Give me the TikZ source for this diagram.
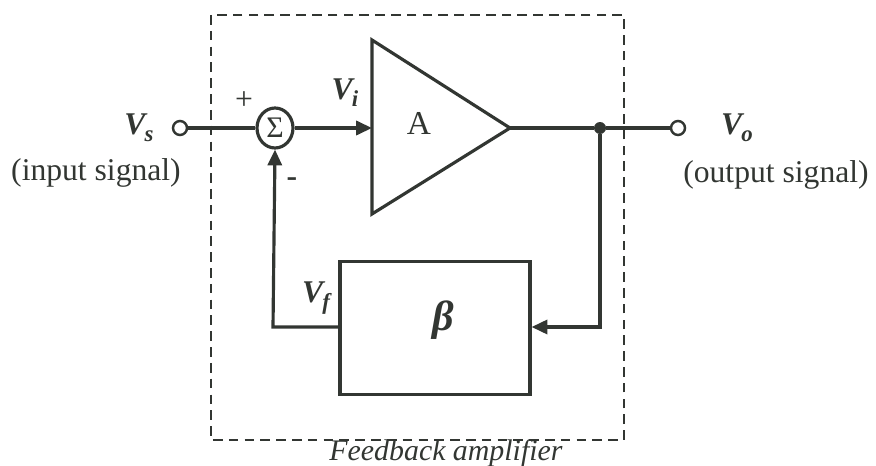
\documentclass[tikz,border=0pt]{standalone}
\usepackage{fontspec}
\setmainfont{Liberation Serif}
\usetikzlibrary{arrows.meta,shapes.geometric}
\definecolor{ink}{RGB}{50,54,50}
\begin{document}
\begin{tikzpicture}[x=0.02cm,y=-0.02cm,
  wire/.style={draw=ink,line width=1.8pt},
  arr/.style={wire,-{Triangle[length=9pt,width=8pt]}},
  term/.style={circle,draw=ink,line width=1.4pt,fill=white,minimum size=0.28cm,inner sep=0pt},
  lbl/.style={text=ink,font=\fontsize{18}{20}\selectfont,inner sep=0pt},
  sigbox/.style={ellipse,draw=ink,line width=1.8pt,minimum width=0.72cm,minimum height=0.8cm,inner sep=0pt},
  blk/.style={rectangle,draw=ink,line width=1.8pt,minimum width=3.8cm,minimum height=2.66cm,inner sep=0pt},
  frame/.style={draw=ink,line width=1.2pt,dash pattern=on 5.5pt off 3.5pt}]
\useasboundingbox (0,0) rectangle (876,466);
% dashed frame
\draw[frame] (211,15) rectangle (624,440);
% nodes
\node[term] (vs) at (180,128) {};
\node[sigbox] (sum) at (275,128) {\fontsize{17}{18}\selectfont\textcolor{ink}{Σ}};
\coordinate (ain) at (372,128);
\coordinate (aout) at (510,128);
\draw[wire,line join=miter] (372,40) -- (aout) -- (372,214) -- cycle;
\node[circle,fill=ink,minimum size=0.24cm,inner sep=0pt] (dot) at (600,128) {};
\node[term] (vo) at (678,128) {};
\node[blk] (beta) at (435,328) {};
\coordinate (fbr) at (600,327);
\coordinate (fbl) at (273,327);
% connectors
\draw[wire] (vs) -- (sum);
\draw[arr] (sum) -- (ain);
\draw[wire] (aout) -- (dot) -- (vo);
\draw[arr] (dot) -- (fbr) -- (beta.east |- fbr);
\draw[arr] (beta.west |- fbl) -- (fbl) -- (sum.south);
% labels
\node[lbl] (lvs) at (139,128) {\textbf{\textit{V\kern-0.5pt\raisebox{-4pt}{\fontsize{13}{14}\selectfont s}}}};
\node[lbl] (lin) at (96,173) {(input signal)};
\node[lbl] (lplus) at (244,101) {+};
\node[lbl] (lminus) at (292,182) {\textbf{-}};
\node[lbl] (lvi) at (345,93) {\textbf{\textit{V\kern-0.5pt\raisebox{-4pt}{\fontsize{13}{14}\selectfont i}}}};
\node[lbl,font=\fontsize{19}{20}\selectfont] (la) at (419,123) {A};
\node[lbl] (lvo) at (737,128) {\textbf{\textit{V\kern-0.5pt\raisebox{-4pt}{\fontsize{13}{14}\selectfont o}}}};
\node[lbl] (lout) at (776,175) {(output signal)};
\node[lbl] (lvf) at (316,298) {\textbf{\textit{V\kern-0.5pt\raisebox{-4pt}{\fontsize{13}{14}\selectfont f}}}};
\node[lbl,font=\fontsize{24}{26}\selectfont] (lb) at (443,320) {\textbf{\textit{β}}};
\node[lbl,font=\fontsize{17}{19}\selectfont] (lfa) at (446,453) {\textit{Feedback amplifier}};
\end{tikzpicture}
\end{document}
